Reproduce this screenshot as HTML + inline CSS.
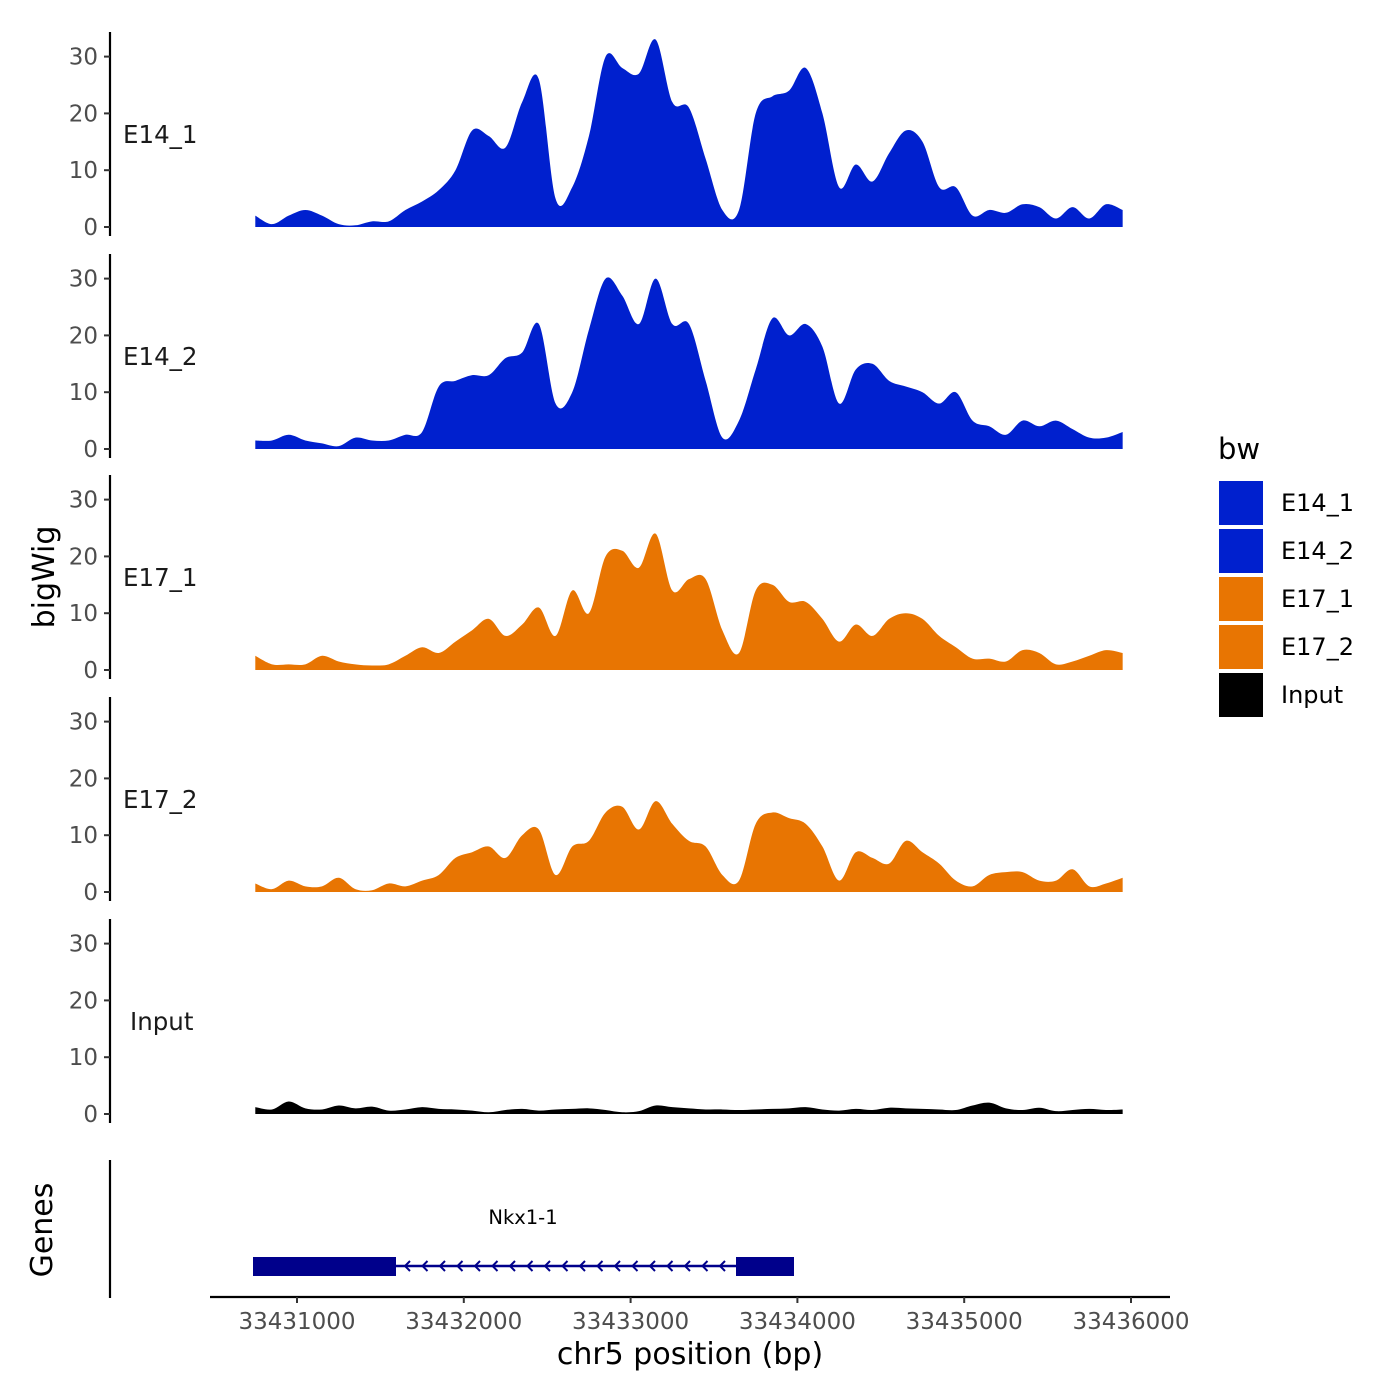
<!DOCTYPE html>
<html><head><meta charset="utf-8">
<style>
html,body{margin:0;padding:0;background:#fff;}
svg{display:block;font-family:"DejaVu Sans","Liberation Sans",sans-serif;}
</style></head>
<body>
<svg id="chart" width="1400" height="1400" viewBox="0 0 1400 1400" xmlns="http://www.w3.org/2000/svg">
</svg>
<script>
// ---- data ----
const positions = []; // bp positions, 100bp grid
for (let i = 0; i < 53; i++) positions.push(33430750 + 100 * i);
const trackNames = ["E14_1", "E14_2", "E17_1", "E17_2", "Input"];
const e14_1 = [2,0.5,2,3,2,0.5,0.3,1,1,3,4.5,6.5,10,17,16,14,22,26,5,7,16,30,28,27,33,22,21,12,3,3,20,23,24,28,20,7,11,8,13,17,15,7,7,2,3,2.5,4,3.5,1.5,3.5,1.5,4,3];
const e14_2 = [1.5,1.5,2.5,1.5,1,0.5,2,1.5,1.5,2.5,3,11,12,13,13,16,17,22,8,10,21,30,27,22,30,22,22,12,2,5,14,23,20,22,18,8,14,15,12,11,10,8,10,5,4,2.5,5,4,5,3.5,2,2,3];
const e17_1 = [2.5,1,1,1,2.5,1.5,1,0.8,1,2.5,4,3,5,7,9,6,8,11,6,14,10,20,21,18,24,14,16,16,7,3,14,15,12,12,9,5,8,6,9,10,9,6,4,2,2,1.5,3.5,3,1,1.5,2.5,3.5,3];
const e17_2 = [1.5,0.5,2,1,1,2.5,0.5,0.3,1.5,1,2,3,6,7,8,6,10,11,3,8,9,14,15,11,16,12,9,8,3,2,12,14,13,12,8,2,7,6,5,9,7,5,2,1,3,3.5,3.5,2,2,4,1,1.5,2.5];
const inputVals = [1.2,0.8,2.2,1,0.8,1.5,1,1.3,0.6,0.8,1.2,0.9,0.8,0.6,0.3,0.7,0.9,0.6,0.8,0.9,1,0.7,0.3,0.5,1.5,1.2,1,0.8,0.8,0.7,0.8,0.9,1,1.2,0.8,0.6,0.9,0.7,1.1,1,0.9,0.8,0.7,1.5,2,1,0.7,1.1,0.5,0.7,0.9,0.7,0.8];
const seriesList = [e14_1, e14_2, e17_1, e17_2, inputVals];
const colors = ["#0020CE","#0020CE","#E87502","#E87502","#000000"];
const yTicks = [0,10,20,30];
const xTicks = [33431000,33432000,33433000,33434000,33435000,33436000];
const legendLabels = ["E14_1","E14_2","E17_1","E17_2","Input"];

// ---- scales ----
const xScale = bp => 297 + (bp - 33431000) * 0.1668;
const panelZero = [227, 449, 670, 892, 1114];
const yScale = (p, v) => panelZero[p] - v * 5.68;

const NS = "http://www.w3.org/2000/svg";
const svg = document.getElementById("chart");
function mk(tag, attrs, parent) {
  const e = document.createElementNS(NS, tag);
  for (const k in attrs) e.setAttribute(k, attrs[k]);
  (parent || svg).appendChild(e);
  return e;
}
function areaPath(pts, base) {
  let d = `M${pts[0][0]},${base} L${pts[0][0]},${pts[0][1]}`;
  for (let i = 0; i < pts.length - 1; i++) {
    const p0 = pts[Math.max(0, i - 1)], p1 = pts[i], p2 = pts[i + 1], p3 = pts[Math.min(pts.length - 1, i + 2)];
    const c1x = p1[0] + (p2[0] - p0[0]) / 6, c1y = Math.min(base, p1[1] + (p2[1] - p0[1]) / 6);
    const c2x = p2[0] - (p3[0] - p1[0]) / 6, c2y = Math.min(base, p2[1] - (p3[1] - p1[1]) / 6);
    d += ` C${c1x},${c1y} ${c2x},${c2y} ${p2[0]},${p2[1]}`;
  }
  d += ` L${pts[pts.length - 1][0]},${base} Z`;
  return d;
}

// ---- panels ----
seriesList.forEach((vals, p) => {
  const g = mk("g", {});
  
  
  const z = panelZero[p];
  const ax = mk("line", {x1:110, x2:110, y1:z - 195, y2:z + 9, stroke:"#000", "stroke-width":2.2}, g);
  
  
  yTicks.forEach(t => {
    const y = yScale(p, t);
    const tk = mk("line", {x1:104, x2:110, y1:y, y2:y, stroke:"#333", "stroke-width":2}, g);
    
    
    const tl = mk("text", {x:98, y:y + 8, "text-anchor":"end", "font-size":23, fill:"#4d4d4d"}, g);
    tl.textContent = t;
    
    
  });
  const lab = mk("text", {x:p === 4 ? 130 : 123, y:z - 84, "font-size":24.5, fill:"#1a1a1a"}, g);
  lab.textContent = trackNames[p];
  
  
  const pts = vals.map((v, i) => [xScale(positions[i]), yScale(p, v)]);
  const area = mk("path", {d: areaPath(pts, z), fill: colors[p]}, g);
  
  
});

// y title
const yt = mk("text", {x:0, y:0, transform:"translate(54,577) rotate(-90)", "text-anchor":"middle", "font-size":30, fill:"#000"});
yt.textContent = "bigWig";



// ---- genes panel ----
const gg = mk("g", {});


const ga = mk("line", {x1:110, x2:110, y1:1160, y2:1298, stroke:"#000", "stroke-width":2.2}, gg);


const gt = mk("text", {x:0, y:0, transform:"translate(52,1230) rotate(-90)", "text-anchor":"middle", "font-size":30, fill:"#000"}, gg);
gt.textContent = "Genes";


const intron = mk("line", {x1:396, x2:736, y1:1266, y2:1266, stroke:"#00008B", "stroke-width":2.5}, gg);


for (let x = 405; x < 730; x += 17.5) {
  const ar = mk("path", {d:`M${x+5},${1261} L${x},${1266} L${x+5},${1271}`, fill:"none", stroke:"#00008B", "stroke-width":2}, gg);
  
  
}
const ex1 = mk("rect", {x:253, y:1257, width:143, height:19, fill:"#00008B"}, gg);


const ex2 = mk("rect", {x:736, y:1257, width:58, height:19, fill:"#00008B"}, gg);


const gl = mk("text", {x:523, y:1224, "text-anchor":"middle", "font-size":19.5, fill:"#000"}, gg);
gl.textContent = "Nkx1-1";



// ---- x axis ----
const xa = mk("line", {x1:210, x2:1170, y1:1297, y2:1297, stroke:"#000", "stroke-width":2.2});


xTicks.forEach(t => {
  const x = xScale(t);
  const tk = mk("line", {x1:x, x2:x, y1:1297, y2:1303, stroke:"#333", "stroke-width":2});
  
  
  const tl = mk("text", {x:x, y:1329, "text-anchor":"middle", "font-size":23, fill:"#4d4d4d"});
  tl.textContent = t;
  
  
});
const xt = mk("text", {x:690, y:1364, "text-anchor":"middle", "font-size":30, fill:"#000"});
xt.textContent = "chr5 position (bp)";



// ---- legend ----
const lg = mk("g", {});


const ltitle = mk("text", {x:1218, y:459, "font-size":29, fill:"#000"}, lg);
ltitle.textContent = "bw";


legendLabels.forEach((l, i) => {
  const y = 481 + 48 * i;
  const r = mk("rect", {x:1219, y:y, width:44, height:44, fill:colors[i]}, lg);
  
  
  const t = mk("text", {x:1281, y:y + 30, "font-size":24, fill:"#000"}, lg);
  t.textContent = l;
  
  
});
</script>
</body></html>
